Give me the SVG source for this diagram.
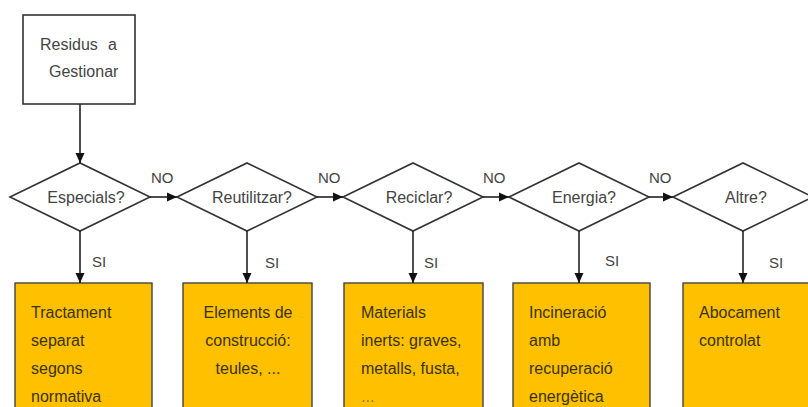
<svg xmlns="http://www.w3.org/2000/svg" width="808" height="407" viewBox="0 0 808 407">
<defs>
<style>
.box{fill:#fff;stroke:#333;stroke-width:1.6}
.dia{fill:#fff;stroke:#333;stroke-width:1.6}
.res{fill:#FFC000;stroke:#444;stroke-width:1.4}
.t{font-family:"Liberation Sans",Arial,sans-serif;font-size:16px;fill:#444}
.r{font-family:"Liberation Sans",Arial,sans-serif;font-size:16px;fill:#3a3300}
.lbl{font-family:"Liberation Sans",Arial,sans-serif;font-size:15px;fill:#444}
.c{stroke:#222;stroke-width:1.6;fill:none}
</style>
<marker id="ah" viewBox="0 0 10 10" refX="10" refY="5" markerWidth="10" markerHeight="10" markerUnits="userSpaceOnUse" orient="auto">
<path d="M0,0.5 L10,5 L0,9.5 Z" fill="#111"/>
</marker>
</defs>
<rect width="808" height="407" fill="#fff"/>
<g id="start">
<rect class="box" x="23" y="15" width="112" height="89"/>
<text class="t" x="40" y="50">Residus<tspan x="108">a</tspan></text>
<text class="t" x="49" y="77">Gestionar</text>
</g>
<g id="d1"><polygon class="dia" points="10,197 80,163 150,197 80,231"/><text class="t" x="86" y="203" text-anchor="middle">Especials?</text></g>
<g id="d2"><polygon class="dia" points="177,197 247,163 317,197 247,231"/><text class="t" x="252" y="203" text-anchor="middle">Reutilitzar?</text></g>
<g id="d3"><polygon class="dia" points="343,197 413,163 483,197 413,231"/><text class="t" x="419" y="203" text-anchor="middle">Reciclar?</text></g>
<g id="d4"><polygon class="dia" points="509,197 579,163 649,197 579,231"/><text class="t" x="584" y="203" text-anchor="middle">Energia?</text></g>
<g id="d5"><polygon class="dia" points="673,197 743,163 813,197 743,231"/><text class="t" x="746" y="203" text-anchor="middle">Altre?</text></g>
<g id="b1"><rect class="res" x="15" y="283" width="137" height="140"/>
<text class="r" x="31" y="318">Tractament</text><text class="r" x="31" y="346">separat</text><text class="r" x="31" y="374">segons</text><text class="r" x="31" y="402">normativa</text></g>
<g id="b2"><rect class="res" x="183" y="283" width="129" height="140"/>
<text class="r" x="248" y="318" text-anchor="middle">Elements de</text><text class="r" x="248" y="346" text-anchor="middle">construcció:</text><text class="r" x="248" y="374" text-anchor="middle">teules, ...</text></g>
<g id="b3"><rect class="res" x="344" y="283" width="139" height="140"/>
<text class="r" x="361" y="318">Materials</text><text class="r" x="361" y="346">inerts: graves,</text><text class="r" x="361" y="374">metalls, fusta,</text><text class="r" x="361" y="402" style="fill:#8a7a40">...</text></g>
<g id="b4"><rect class="res" x="513" y="283" width="137" height="140"/>
<text class="r" x="529" y="318">Incineració</text><text class="r" x="529" y="346">amb</text><text class="r" x="529" y="374">recuperació</text><text class="r" x="529" y="402">energètica</text></g>
<g id="b5"><rect class="res" x="683" y="283" width="140" height="140"/>
<text class="r" x="699" y="318">Abocament</text><text class="r" x="699" y="346">controlat</text></g>
<g id="connectors">
<line class="c" x1="80" y1="104" x2="80" y2="163" marker-end="url(#ah)"/>
<line class="c" x1="150" y1="197" x2="177" y2="197" marker-end="url(#ah)"/>
<line class="c" x1="317" y1="197" x2="343" y2="197" marker-end="url(#ah)"/>
<line class="c" x1="483" y1="197" x2="509" y2="197" marker-end="url(#ah)"/>
<line class="c" x1="649" y1="197" x2="673" y2="197" marker-end="url(#ah)"/>
<line class="c" x1="80" y1="231" x2="80" y2="283" marker-end="url(#ah)"/>
<line class="c" x1="247" y1="231" x2="247" y2="283" marker-end="url(#ah)"/>
<line class="c" x1="413" y1="231" x2="413" y2="283" marker-end="url(#ah)"/>
<line class="c" x1="579" y1="231" x2="579" y2="283" marker-end="url(#ah)"/>
<line class="c" x1="743" y1="231" x2="743" y2="283" marker-end="url(#ah)"/>
<text class="lbl" x="151" y="183">NO</text>
<text class="lbl" x="318" y="183">NO</text>
<text class="lbl" x="483" y="183">NO</text>
<text class="lbl" x="649" y="183">NO</text>
<text class="lbl" x="92" y="267">SI</text>
<text class="lbl" x="265" y="268">SI</text>
<text class="lbl" x="424" y="268">SI</text>
<text class="lbl" x="605" y="266">SI</text>
<text class="lbl" x="769" y="268">SI</text>
</g>
</svg>
